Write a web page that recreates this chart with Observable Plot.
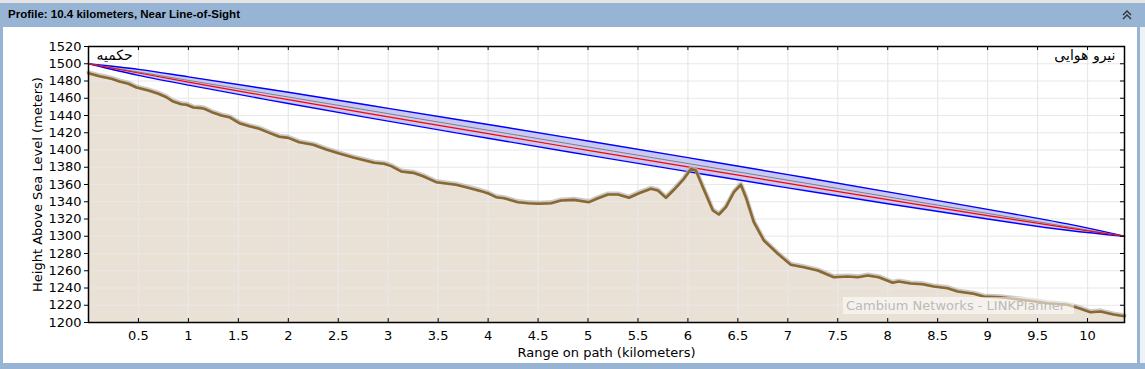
<!DOCTYPE html>
<html>
<head>
<meta charset="utf-8">
<script src="https://cdn.jsdelivr.net/npm/d3@7"></script>
<script src="https://cdn.jsdelivr.net/npm/@observablehq/plot@0.6"></script>
<style>
  body { margin:0; width:1145px; height:369px; position:relative; overflow:hidden; background:#fff; font-family:"DejaVu Sans", sans-serif; }
  .abs { position:absolute; }
</style>
</head>
<body>
<div class="abs" style="left:0;top:0;width:1145px;height:3px;background:#e4e4e4"></div>
<div class="abs" style="left:0;top:3px;width:1145px;height:24px;background:#98b4d4"></div>
<div class="abs" style="left:8px;top:8px;font-family:'Liberation Sans',Arial,sans-serif;font-weight:bold;font-size:11.5px;color:#000" id="title">Profile: 10.4 kilometers, Near Line-of-Sight</div>
<svg class="abs" style="left:1121px;top:9px" width="12" height="12" viewBox="0 0 12 12">
  <polyline points="2,6 6,2 10,6" fill="none" stroke="#333" stroke-width="1.4"/>
  <polyline points="2,10 6,6 10,10" fill="none" stroke="#333" stroke-width="1.4"/>
</svg>
<div class="abs" id="chart" style="left:0;top:27px"></div>
<div class="abs" style="left:0;top:27px;width:3px;height:336px;background:#98b4d4"></div>
<div class="abs" style="left:1137px;top:27px;width:3px;height:336px;background:#98b4d4"></div>
<div class="abs" style="left:1140px;top:27px;width:5px;height:336px;background:#eef2f7"></div>
<div class="abs" style="left:0;top:363px;width:1145px;height:6px;background:#98b4d4"></div>
<div class="abs" style="left:843px;top:297px;width:231px;height:17px;background:rgba(255,255,255,0.55)"></div>
<div class="abs" style="left:846px;top:297px;font-family:'DejaVu Sans';font-size:13px;color:#bdb9b4;line-height:17px">Cambium Networks - LINKPlanner</div>
<script>
// ---- data ----
const siteLeft = "حکمیه";
const siteRight = "نیرو هوایی";
const pathLengthKm = 10.37;

const rangeKm = [0.00,0.11,0.23,0.31,0.40,0.48,0.60,0.70,0.78,0.84,0.93,0.98,1.05,1.13,1.16,1.25,1.33,1.41,1.51,1.61,1.71,1.81,1.91,2.00,2.11,2.25,2.38,2.51,2.65,2.73,2.86,2.96,3.03,3.13,3.25,3.35,3.48,3.60,3.68,3.80,3.93,4.01,4.08,4.16,4.30,4.40,4.51,4.63,4.73,4.86,5.01,5.10,5.20,5.30,5.41,5.51,5.63,5.70,5.78,5.86,5.96,6.03,6.08,6.15,6.25,6.31,6.38,6.46,6.53,6.58,6.66,6.76,6.90,7.03,7.16,7.30,7.46,7.60,7.70,7.80,7.91,8.05,8.11,8.23,8.35,8.46,8.60,8.70,8.86,8.96,9.13,9.30,9.46,9.60,9.80,9.93,10.03,10.13,10.26,10.37];
const terrainM = [1489,1485.6,1482.5,1479.4,1476.8,1472.5,1469,1465.2,1461.2,1456.6,1453.1,1452.4,1449.3,1448.5,1447.8,1443.1,1440,1438,1431.1,1427.6,1424.6,1419.9,1415.3,1414.1,1409,1406,1400.6,1395.9,1391.3,1389,1385.2,1384,1381.3,1375.1,1373.5,1369.6,1362.7,1360.8,1359.7,1356.2,1352.3,1349.2,1345.3,1344.1,1339.5,1338.3,1337.6,1338.3,1341.4,1342.2,1339.5,1344.1,1348.4,1348.4,1344.6,1349.9,1355,1353,1344.6,1353.9,1366.6,1378,1376.2,1356.9,1329.9,1325.2,1333.7,1351.1,1359.7,1345.3,1316.3,1295.1,1279.7,1266.9,1264.1,1260.3,1252.5,1253.3,1252.5,1254.5,1252.5,1246,1247.5,1245.2,1244.4,1241.7,1239.8,1235.9,1233.3,1230.1,1229.3,1227,1224.7,1222.4,1220.5,1215.9,1211.9,1212.8,1209.3,1207.3];

const losKm = [0, 10.37];
const losM = [1500, 1300];

const fresnelKm = [0, 0.5, 1, 2, 3, 4, 5, 6, 7, 8, 9, 9.8, 10.37];
const fresnelTop = [1500, 1493.5, 1484.8, 1466.9, 1448.3, 1429.6, 1410.5, 1391.1, 1371.5, 1351.5, 1331.2, 1314.3, 1300];
const fresnelBottom = [1500, 1486.5, 1475.2, 1453.9, 1433.5, 1413.6, 1394.1, 1374.9, 1356.1, 1337.7, 1320.0, 1306.9, 1300];
const rayM = [1500, 1489.3, 1478.7, 1458.3, 1438.5, 1419.0, 1399.6, 1380.4, 1361.3, 1342.5, 1324.0, 1309.8, 1300];

const xTicks = [0.5,1,1.5,2,2.5,3,3.5,4,4.5,5,5.5,6,6.5,7,7.5,8,8.5,9,9.5,10];
const yTicks = [1200,1220,1240,1260,1280,1300,1320,1340,1360,1380,1400,1420,1440,1460,1480,1500,1520];

// ---- tables ----
const terrain = rangeKm.map((x, i) => ({x, h: terrainM[i]}));
const los = losKm.map((x, i) => ({x, h: losM[i]}));
const fresnel = fresnelKm.map((x, i) => ({x, top: fresnelTop[i], bot: fresnelBottom[i], ray: rayM[i]}));

const W = 1145, H = 336, ML = 88, MR = 21, MT = 19, MB = 41;
const innerW = W - ML - MR, innerH = H - MT - MB;

const chart = Plot.plot({
  width: W, height: H,
  marginLeft: ML, marginRight: MR, marginTop: MT, marginBottom: MB,
  x: {domain: [0, pathLengthKm]},
  y: {domain: [1200, 1520]},
  style: {fontFamily: "DejaVu Sans", fontSize: "13px", background: "white", color: "black", overflow: "visible"},
  marks: [
    Plot.areaY(terrain, {x: "x", y1: 1200, y2: "h", fill: "#e9e0d6"}),
    Plot.gridX(xTicks, {stroke: "#e8e8e8", strokeOpacity: 1, strokeWidth: 1.2}),
    Plot.gridY(yTicks, {stroke: "#e8e8e8", strokeOpacity: 1, strokeWidth: 1.2}),
    Plot.areaY(fresnel, {x: "x", y1: "bot", y2: "top", fill: "#c6c6f2", fillOpacity: 0.95, curve: "natural"}),
    Plot.line(fresnel, {x: "x", y: "top", stroke: "#0000ff", strokeWidth: 1.4, curve: "natural"}),
    Plot.line(fresnel, {x: "x", y: "bot", stroke: "#0000ff", strokeWidth: 1.4, curve: "natural"}),
    Plot.line(los, {x: "x", y: "h", stroke: "#808080", strokeWidth: 1}),
    Plot.line(fresnel, {x: "x", y: "ray", stroke: "#ff0000", strokeWidth: 1.2, curve: "natural"}),
    Plot.line(terrain, {x: "x", y: "h", stroke: "#bababa", strokeWidth: 4.2, dy: -1, strokeOpacity: 0.75}),
    Plot.line(terrain, {x: "x", y: "h", stroke: "#8a6830", strokeWidth: 2.6}),
    Plot.text([siteLeft], {text: d => d, frameAnchor: "top-left", dx: 8, dy: 4, fontSize: 14, fill: "black"}),
    Plot.text([siteRight], {text: d => d, frameAnchor: "top-right", dx: -9, dy: 4, fontSize: 14, fill: "black"}),
    Plot.tickX(xTicks, {x: d => d, insetTop: innerH - 4, stroke: "black"}),
    Plot.tickX(xTicks, {x: d => d, insetBottom: innerH - 4, stroke: "black"}),
    Plot.tickY(yTicks, {y: d => d, insetLeft: innerW - 4, stroke: "black"}),
    Plot.frame({stroke: "black", strokeWidth: 1.5}),
    Plot.axisY(yTicks, {tickSize: 4, tickPadding: 3, tickFormat: d => String(d), label: "Height Above Sea Level (meters)", labelAnchor: "center", labelArrow: "none", labelOffset: 56}),
    Plot.axisX(xTicks, {tickSize: 0, tickPadding: 8, tickFormat: d => String(d), label: "Range on path (kilometers)", labelAnchor: "center", labelArrow: "none", labelOffset: 34})
  ]
});
document.getElementById("chart").appendChild(chart);
</script>
</body>
</html>
